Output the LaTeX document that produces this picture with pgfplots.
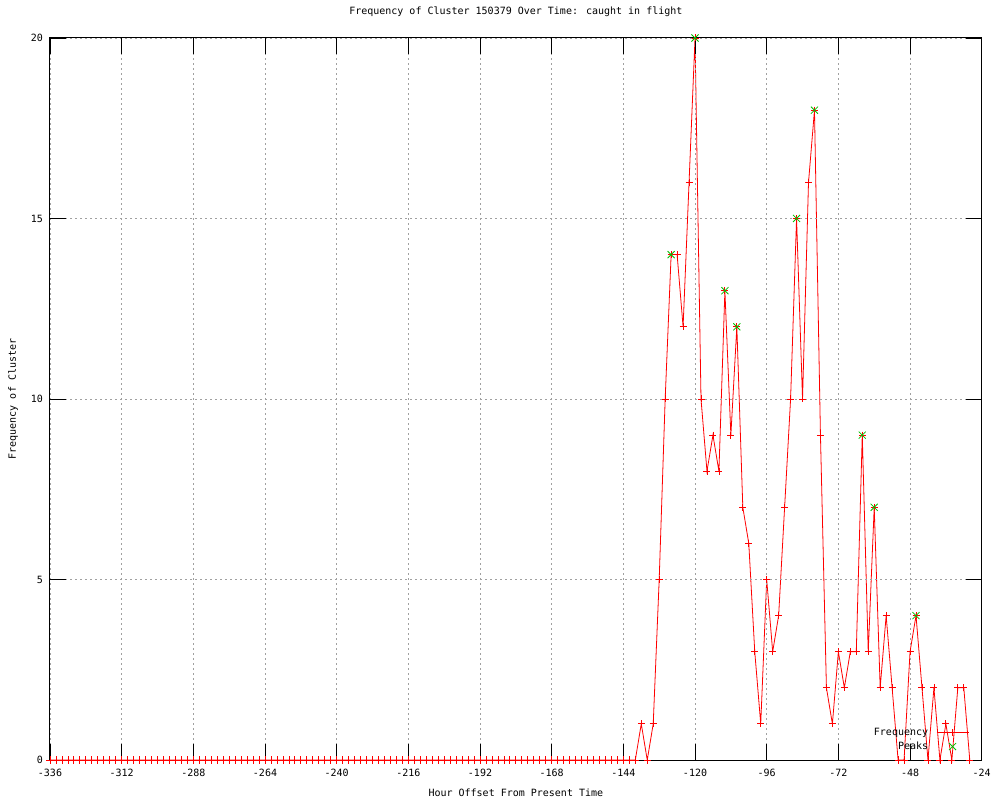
\documentclass[border=0pt]{standalone}
\usepackage{fontspec}
\setmainfont{DejaVu Sans Mono}
\usepackage{pgfplots}
\pgfplotsset{compat=1.18}
\definecolor{gpred}{RGB}{255,0,0}
\definecolor{gpgreen}{RGB}{0,192,0}
\definecolor{gpgrid}{RGB}{160,160,160}
\begin{document}
\begin{tikzpicture}
\useasboundingbox (0,0) rectangle (1000bp,800bp);
\begin{axis}[
  at={(50bp,40bp)}, anchor=south west,
  scale only axis, width=931.7bp, height=722bp,
  xmin=-336, xmax=-24, ymin=0, ymax=20,
  xtick={-336,-312,...,-24}, ytick={0,5,10,15,20},
  tick pos=both, tick align=inside,
  major tick length=16bp,
  every tick/.style={black, line width=0.8bp},
  axis line style={black, line width=1bp},
  grid=major,
  major grid style={gpgrid, line width=0.8bp, dash pattern=on 2bp off 3bp},
  axis on top,
  clip=false,
  font=\fontsize{10bp}{12bp}\selectfont,
  /pgf/number format/assume math mode=true,
  xticklabel style={anchor=center, yshift=-13bp, inner sep=0pt},
  yticklabel style={anchor=east, xshift=-7bp, inner sep=0pt},
  title={Frequency of Cluster 150379 Over Time: caught in flight},
  title style={at={(axis description cs:0.5,1.0277)}, anchor=center, inner sep=0pt},
  xlabel={Hour Offset From Present Time},
  xlabel style={at={(axis description cs:0.5,-0.0457)}, anchor=center, inner sep=0pt},
  ylabel={Frequency of Cluster},
  ylabel style={at={(axis description cs:-0.0397,0.5)}, anchor=center, inner sep=0pt},
  legend style={at={(rel axis cs:0.9865,0.012)}, anchor=south east, draw=none, fill=none,
    inner sep=0pt, row sep=5bp, nodes={inner sep=0pt},
    /tikz/every odd column/.style={column sep=8bp}},
  legend cell align=right,
  legend plot pos=right,
]
\addplot[gpred, line width=0.8bp, mark=+, mark size=3.5bp,
  mark options={line width=0.8bp},
  legend image code/.code={\draw[gpred, line width=0.8bp] (0bp,0bp) -- (32bp,0bp);
    \draw[gpred, line width=0.8bp] plot[mark=+, mark size=3.5bp] coordinates {(16bp,0bp)};}]
coordinates {
(-336,0) (-334,0) (-332,0) (-330,0) (-328,0) (-326,0) (-324,0) (-322,0) (-320,0) (-318,0)
(-316,0) (-314,0) (-312,0) (-310,0) (-308,0) (-306,0) (-304,0) (-302,0) (-300,0) (-298,0)
(-296,0) (-294,0) (-292,0) (-290,0) (-288,0) (-286,0) (-284,0) (-282,0) (-280,0) (-278,0)
(-276,0) (-274,0) (-272,0) (-270,0) (-268,0) (-266,0) (-264,0) (-262,0) (-260,0) (-258,0)
(-256,0) (-254,0) (-252,0) (-250,0) (-248,0) (-246,0) (-244,0) (-242,0) (-240,0) (-238,0)
(-236,0) (-234,0) (-232,0) (-230,0) (-228,0) (-226,0) (-224,0) (-222,0) (-220,0) (-218,0)
(-216,0) (-214,0) (-212,0) (-210,0) (-208,0) (-206,0) (-204,0) (-202,0) (-200,0) (-198,0)
(-196,0) (-194,0) (-192,0) (-190,0) (-188,0) (-186,0) (-184,0) (-182,0) (-180,0) (-178,0)
(-176,0) (-174,0) (-172,0) (-170,0) (-168,0) (-166,0) (-164,0) (-162,0) (-160,0) (-158,0)
(-156,0) (-154,0) (-152,0) (-150,0) (-148,0) (-146,0) (-144,0) (-142,0) (-140,0)
(-138,1) (-136,0) (-134,1) (-132,5) (-130,10) (-128,14) (-126,14) (-124,12) (-122,16) (-120,20)
(-118,10) (-116,8) (-114,9) (-112,8) (-110,13) (-108,9) (-106,12) (-104,7) (-102,6) (-100,3)
(-98,1) (-96,5) (-94,3) (-92,4) (-90,7) (-88,10) (-86,15) (-84,10) (-82,16) (-80,18)
(-78,9) (-76,2) (-74,1) (-72,3) (-70,2) (-68,3) (-66,3) (-64,9) (-62,3) (-60,7)
(-58,2) (-56,4) (-54,2) (-52,0) (-50,0) (-48,3) (-46,4) (-44,2) (-42,0) (-40,2)
(-38,0) (-36,1) (-34,0) (-32,2) (-30,2) (-28,0)
};
\addlegendentry{Frequency}
\addplot[gpgreen, only marks, mark=x, mark size=5bp, mark options={line width=0.8bp},
  legend image code/.code={\draw[gpgreen, line width=0.8bp] plot[mark=x, mark size=5bp] coordinates {(16bp,0bp)};}]
coordinates {
(-128,14) (-120,20) (-110,13) (-106,12) (-86,15) (-80,18) (-64,9) (-60,7) (-46,4)
};
\addlegendentry{Peaks}
\end{axis}
\end{tikzpicture}
\end{document}
